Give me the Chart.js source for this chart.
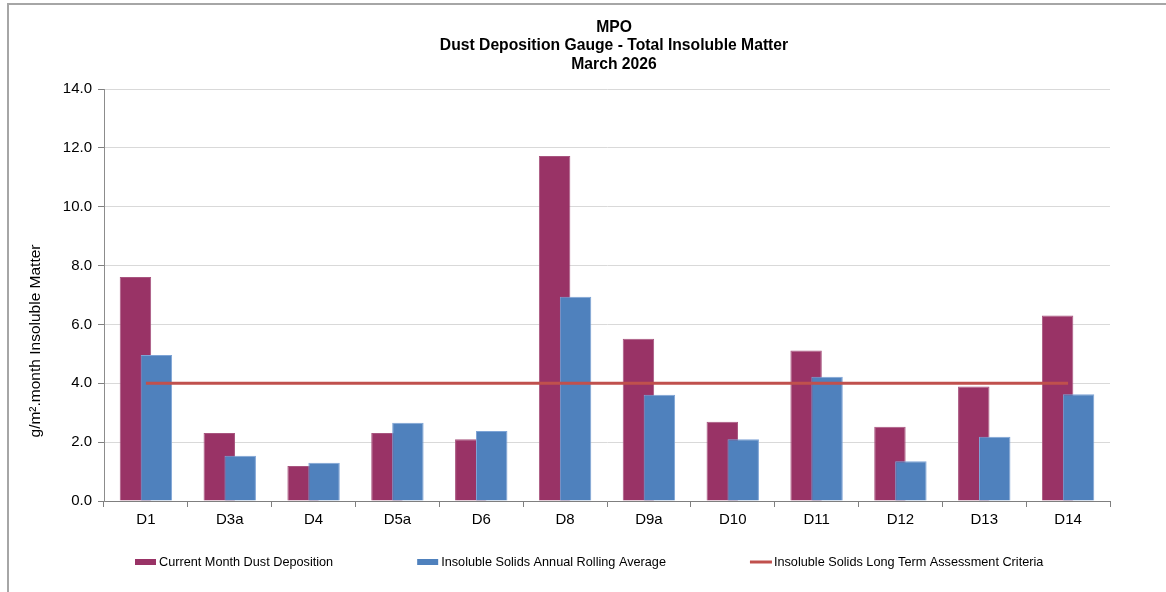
<!DOCTYPE html>
<html>
<head>
<meta charset="utf-8">
<script src="https://cdn.jsdelivr.net/npm/chart.js@4/dist/chart.umd.min.js"></script>
<style>
  html, body { margin: 0; padding: 0; background: #fff; overflow: hidden; }
  .frame { position: absolute; left: 7px; top: 3px; width: 1200px; height: 620px;
           border-top: 2px solid #a6a6a6; border-left: 2px solid #a6a6a6; }
  #myChart { position: absolute; left: 0; top: 0; }
</style>
</head>
<body>
<div class="frame"></div>
<canvas id="myChart" width="1166" height="592"></canvas>
<script>
// data
const sites = ['D1', 'D3a', 'D4', 'D5a', 'D6', 'D8', 'D9a', 'D10', 'D11', 'D12', 'D13', 'D14'];
const currentMonth = [7.61, 2.31, 1.19, 2.31, 2.10, 11.72, 5.51, 2.69, 5.11, 2.52, 3.89, 6.30];
const rollingAverage = [4.96, 1.54, 1.30, 2.66, 2.38, 6.94, 3.61, 2.10, 4.22, 1.35, 2.18, 3.63];
const criteria = [4, 4, 4, 4, 4, 4, 4, 4, 4, 4, 4, 4];
const yTicks = [0, 2, 4, 6, 8, 10, 12, 14];

const titleLines = ['MPO', 'Dust Deposition Gauge - Total Insoluble Matter', 'March 2026'];
const yTitle = 'g/m\u00b2.month Insoluble Matter';
const seriesNames = ['Current Month Dust Deposition', 'Insoluble Solids Annual Rolling Average', 'Insoluble Solids Long Term Assessment Criteria'];

const FONT = "'Liberation Sans', Arial, sans-serif";
const PLUM = '#993366';
const BLUE = '#4F81BD';
const LINE_RED = '#C0504D';

// Excel draws the 2nd bar over the 1st where they overlap -> paint blue right after plum
const barOrderPlugin = {
  id: 'barOrder',
  beforeDatasetDraw(chart, args) {
    if (args.index === 1) return false;
  },
  afterDatasetDraw(chart, args) {
    if (args.index === 0) {
      chart.getDatasetMeta(1).controller.draw();
    }
  }
};

// title, y title + legend drawn by hand so they sit where Excel put them
const extrasPlugin = {
  id: 'extras',
  afterDraw(chart) {
    const ctx = chart.ctx;
    const area = chart.chartArea;

    // title (Excel centres it a bit right of the plot)
    ctx.save();
    ctx.fillStyle = '#000';
    ctx.font = `bold 15.7px ${FONT}`;
    ctx.textAlign = 'center';
    ctx.textBaseline = 'middle';
    titleLines.forEach((line, i) => {
      ctx.fillText(line, 614, 27.5 + i * 18.5);
    });
    ctx.restore();

    ctx.save();
    ctx.fillStyle = '#000';
    ctx.font = `15.5px ${FONT}`;
    ctx.textAlign = 'center';
    ctx.textBaseline = 'middle';
    ctx.translate(36, area.bottom - 160);
    ctx.rotate(-Math.PI / 2);
    ctx.fillText(yTitle, 0, 0);
    ctx.restore();

    // legend
    ctx.save();
    ctx.font = `12.7px ${FONT}`;
    ctx.textBaseline = 'middle';
    ctx.textAlign = 'left';
    const y = area.bottom + 61;
    let x = 135;
    const styles = [
      { kind: 'box', color: PLUM },
      { kind: 'box', color: BLUE },
      { kind: 'line', color: LINE_RED }
    ];
    seriesNames.forEach((name, i) => {
      const st = styles[i];
      if (st.kind === 'box') {
        ctx.fillStyle = st.color;
        ctx.fillRect(x, y - 3, 21, 6);
      } else {
        ctx.strokeStyle = st.color;
        ctx.lineWidth = 3;
        ctx.beginPath();
        ctx.moveTo(x, y);
        ctx.lineTo(x + 22, y);
        ctx.stroke();
      }
      ctx.fillStyle = '#000';
      ctx.fillText(name, x + 24, y);
      x += 24 + ctx.measureText(name).width + 84;
    });
    ctx.restore();
  }
};

const ctx = document.getElementById('myChart').getContext('2d');

new Chart(ctx, {
  data: {
    labels: sites,
    datasets: [
      {
        type: 'bar',
        label: seriesNames[0],
        data: currentMonth,
        backgroundColor: PLUM,
        borderColor: '#a8557f',
        borderWidth: 1
      },
      {
        type: 'bar',
        label: seriesNames[1],
        data: rollingAverage,
        backgroundColor: BLUE,
        borderColor: '#7ea4d6',
        borderWidth: 1
      },
      {
        type: 'line',
        label: seriesNames[2],
        data: criteria,
        borderColor: LINE_RED,
        borderWidth: 3,
        pointRadius: 0,
        fill: false,
        order: -1
      }
    ]
  },
  options: {
    responsive: false,
    animation: false,
    layout: { padding: { left: 0, right: 56, top: 89, bottom: 59 } },
    datasets: {
      bar: { categoryPercentage: 0.5, barPercentage: 1.5 }
    },
    scales: {
      x: {
        offset: true,
        grid: {
          display: true,
          drawOnChartArea: false,
          offset: true,
          tickLength: 6,
          tickColor: '#7f7f7f'
        },
        border: { color: '#7f7f7f', width: 1 },
        ticks: {
          color: '#000',
          padding: 4,
          font: { size: 15, family: FONT }
        }
      },
      y: {
        min: 0,
        max: 14,
        afterBuildTicks: scale => {
          scale.ticks = yTicks.map(v => ({ value: v }));
        },
        afterFit: scale => { scale.width = 104; },
        grid: {
          color: '#d9d9d9',
          tickColor: '#7f7f7f',
          tickLength: 6
        },
        border: { color: '#8c8c8c', width: 1 },
        ticks: {
          color: '#000',
          padding: 6,
          font: { size: 15, family: FONT },
          callback: v => Number(v).toFixed(1)
        }
      }
    },
    plugins: {
      legend: { display: false },
      tooltip: { enabled: false },
      title: { display: false }
    }
  },
  plugins: [barOrderPlugin, extrasPlugin]
});
</script>
</body>
</html>
